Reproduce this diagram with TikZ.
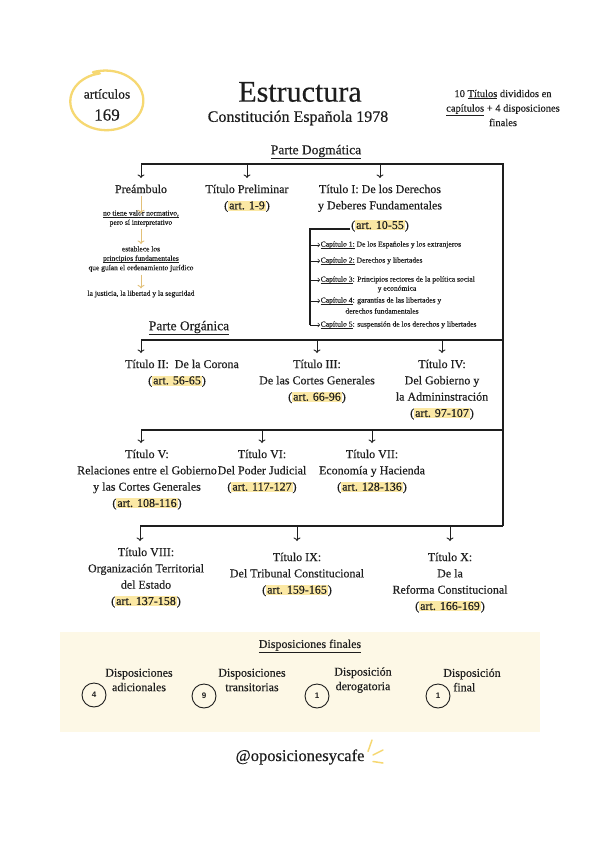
\documentclass[tikz,border=0pt]{standalone}
\usepackage{fontspec}
\setmainfont{Liberation Serif}[FakeBold=0.35]
\setsansfont{Liberation Sans}
\usetikzlibrary{arrows.meta}
\definecolor{hly}{HTML}{FBE8A4}
\definecolor{gold}{HTML}{F6D872}
\definecolor{tanarr}{HTML}{E2C078}
\definecolor{beige}{HTML}{FDF8E6}
\definecolor{ink}{HTML}{1E1E1E}
\newcommand{\hl}[1]{{\setlength{\fboxsep}{0pt}\colorbox{hly}{\kern1pt\rule[-1.5pt]{0pt}{10pt}#1\kern1pt}}}
\newcommand{\ul}[1]{\underline{\smash{#1}}}
\tikzset{
  ttl/.style={align=center, font=\fontsize{12}{16.3}\selectfont, inner sep=0.5pt, anchor=north, text=ink},
  sm/.style={align=center, font=\fontsize{7.5}{9.4}\selectfont, inner sep=0.5pt, text=ink},
  capt/.style={font=\fontsize{7.6}{9}\selectfont, inner sep=0.5pt, anchor=west, text=ink},
  bus/.style={draw=ink, line width=1.4pt},
  arr/.style={draw=ink, line width=0.9pt, -{To[length=3.5pt,width=7pt]}, shorten >=6pt},
  parr/.style={draw=tanarr, line width=0.9pt, -{To[length=3.5pt,width=7pt]}, shorten >=1.5pt, shorten <=2pt},
  carr/.style={draw=ink, line width=0.6pt, -{To[length=2.5pt,width=4.5pt]}},
  dcirc/.style={circle, draw=ink, line width=0.9pt, minimum size=24pt, inner sep=0pt, text=ink, font=\sffamily\bfseries\fontsize{8}{9}\selectfont},
  item/.style={align=center, font=\fontsize{12}{14.5}\selectfont, inner sep=0.5pt, text=ink}
}
\begin{document}
\begin{tikzpicture}[x=1pt,y=-1pt]
\useasboundingbox (0,0) rectangle (599,848);
\fill[white] (0,0) rectangle (599,848);

% ---------- header ----------
\draw[gold, line width=2.3pt, line cap=round]
  plot[smooth, domain=100:470, samples=60] ({106+(35+0.009*(\x-100))*cos(\x)}, {101-(28+0.007*(\x-100))*sin(\x)});
\node[font=\fontsize{13.5}{14}\selectfont, text=ink, inner sep=0pt] (artic) at (107,94) {artículos};
\node[font=\fontsize{17}{18}\selectfont, text=ink, inner sep=0pt] (n169) at (107,115) {169};

\node[font=\fontsize{30}{30}\selectfont, text=ink, inner sep=0pt] (title) at (300,92) {Estructura};
\node[font=\fontsize{16}{16}\selectfont, text=ink, inner sep=0pt] (subt) at (298,118) {Constitución Española 1978};
\node[font=\fontsize{10.5}{14.5}\selectfont, align=center, text=ink, inner sep=0pt] (info) at (503,108)
  {10 \underline{Títulos} divididos en\\ \underline{capítulos} + 4 disposiciones\\ finales};

% ---------- Parte Dogmatica ----------
\node[font=\fontsize{13.5}{14}\selectfont, text=ink, inner sep=0pt] (pdog) at (316,152) {\underline{Parte Dogmática}};
\coordinate (d0) at (141,164);
\coordinate (d1) at (247,164);
\coordinate (d2) at (380,164);
\coordinate (dR) at (503,164);
\coordinate (fR) at (503,526);

\node[ttl] (pre) at (141,184) {Preámbulo};
\node[ttl] (tp) at (247,184) {Título Preliminar\\(\hl{art. 1-9})};
\node[ttl] (t1) at (380,184) {Título I: De los Derechos\\y Deberes Fundamentales};
\node[ttl, anchor=center] (t1a) at (380,226) {(\hl{art. 10-55})};

\draw[bus] (d0) -- (dR) -- (fR);
\draw[arr] (d0) -- (pre.north);
\draw[arr] (d1) -- (tp.north);
\draw[arr] (d2) -- (t1.north);

% preambulo details
\node[sm] (p1) at (141,221) {\ul{no tiene valor normativo,}\\pero sí interpretativo};
\node[sm] (p2) at (141,259) {establece los\\\ul{principios fundamentales}\\que guían el ordenamiento jurídico};
\node[sm] (p3) at (141,294) {la justicia, la libertad y la seguridad};
\draw[parr] (pre.south) -- (p1.north);
\draw[parr] (p1.south) -- (p2.north);
\draw[parr] (p2.south) -- (p3.north);

% capitulos
\node[capt] (c1) at (320,245) {\ul{Capítulo 1:} De los Españoles y los extranjeros};
\node[capt] (c2) at (320,261) {\ul{Capítulo 2:} Derechos y libertades};
\node[capt] (c3) at (320,280) {\ul{Capítulo 3}: Principios rectores de la política social};
\node[sm, font=\fontsize{7.6}{9}\selectfont] (c3b) at (397,289) {y económica};
\node[capt] (c4) at (320,301) {\ul{Capítulo 4}: garantías de las libertades y};
\node[sm, font=\fontsize{7.6}{9}\selectfont] (c4b) at (382,311) {derechos fundamentales};
\node[capt] (c5) at (320,325) {\ul{Capítulo 5}: suspensión de los derechos y libertades};
\coordinate (bkt) at (310,229);
\coordinate (bkb) at (310,325);
\draw[bus, line width=1.2pt] ([yshift=-3pt]t1a.west) -- (bkt) -- (bkb);
\draw[carr] (c1.west -| bkt) -- (c1.west);
\draw[carr] (c2.west -| bkt) -- (c2.west);
\draw[carr] (c3.west -| bkt) -- (c3.west);
\draw[carr] (c4.west -| bkt) -- (c4.west);
\draw[carr] (bkb) -- (c5.west);

% ---------- Parte Organica ----------
\node[font=\fontsize{13.5}{14}\selectfont, text=ink, inner sep=0pt] (porg) at (189,328) {\underline{Parte Orgánica}};
\coordinate (o0) at (141,340);
\coordinate (o1) at (317,340);
\coordinate (o2) at (442,340);
\coordinate (oR) at (503,340);
\draw[bus] (o0) -- (oR);
\node[ttl] (t2) at (182,359) {Título II:\ \ De la Corona\\\hspace*{-10pt}(\hl{art. 56-65})};
\node[ttl] (t3) at (317,359) {Título III:\\De las Cortes Generales\\(\hl{art. 66-96})};
\node[ttl] (t4) at (442,359) {Título IV:\\Del Gobierno y\\la Admininstración\\(\hl{art. 97-107})};
\draw[arr] (o0) -- (o0 |- t2.north);
\draw[arr] (o1) -- (t3.north);
\draw[arr] (o2) -- (t4.north);

\coordinate (q0) at (141,430);
\coordinate (q1) at (262,430);
\coordinate (q2) at (372,430);
\coordinate (qR) at (503,430);
\draw[bus] (q0) -- (qR);
\node[ttl] (t5) at (147,449) {Título V:\\Relaciones entre el Gobierno\\y las Cortes Generales\\(\hl{art. 108-116})};
\node[ttl] (t6) at (262,449) {Título VI:\\Del Poder Judicial\\(\hl{art. 117-127})};
\node[ttl] (t7) at (372,449) {Título VII:\\Economía y Hacienda\\(\hl{art. 128-136})};
\draw[arr] (q0) -- (q0 |- t5.north);
\draw[arr] (q1) -- (t6.north);
\draw[arr] (q2) -- (t7.north);

\coordinate (r0) at (140,526);
\coordinate (r1) at (297,526);
\coordinate (r2) at (450,526);
\draw[bus] (r0) -- (fR);
\node[ttl] (t8) at (146,547) {Título VIII:\\Organización Territorial\\del Estado\\(\hl{art. 137-158})};
\node[ttl] (t9) at (297,552) {Título IX:\\Del Tribunal Constitucional\\(\hl{art. 159-165})};
\node[ttl] (t10) at (450,552) {Título X:\\De la\\Reforma Constitucional\\(\hl{art. 166-169})};
\draw[arr] (r0) -- (r0 |- t8.north);
\draw[arr, shorten >=11pt] (r1) -- (t9.north);
\draw[arr, shorten >=11pt] (r2) -- (t10.north);

% ---------- Disposiciones ----------
\fill[beige] (60,632) rectangle (540,732);
\node[font=\fontsize{12}{13}\selectfont, text=ink, inner sep=0pt] (dfin) at (310,646) {\underline{Disposiciones finales}};
\node[item] (i1) at (139,680) {Disposiciones\\adicionales};
\node[item] (i2) at (252,680) {Disposiciones\\transitorias};
\node[item] (i3) at (363,680) {Disposición\\derogatoria};
\node[item, align=left] (i4) at (472,680) {Disposición\\\hspace*{10pt}final};
\node[dcirc] (k1) at (94,695) {4};
\node[dcirc] (k2) at (204,696) {9};
\node[dcirc] (k3) at (317,696) {1};
\node[dcirc] (k4) at (438,696) {1};

% ---------- footer ----------
\node[font=\fontsize{16.5}{17}\selectfont, text=ink, inner sep=0pt] (handle) at (300,757) {@oposicionesycafe};
\draw[gold, line width=1.5pt, line cap=round] (372,740) -- (368,751.5);
\draw[gold, line width=1.5pt, line cap=round] (383,750) -- (373,755);
\draw[gold, line width=1.5pt, line cap=round] (383,763) -- (373,761.5);
\end{tikzpicture}
\end{document}
